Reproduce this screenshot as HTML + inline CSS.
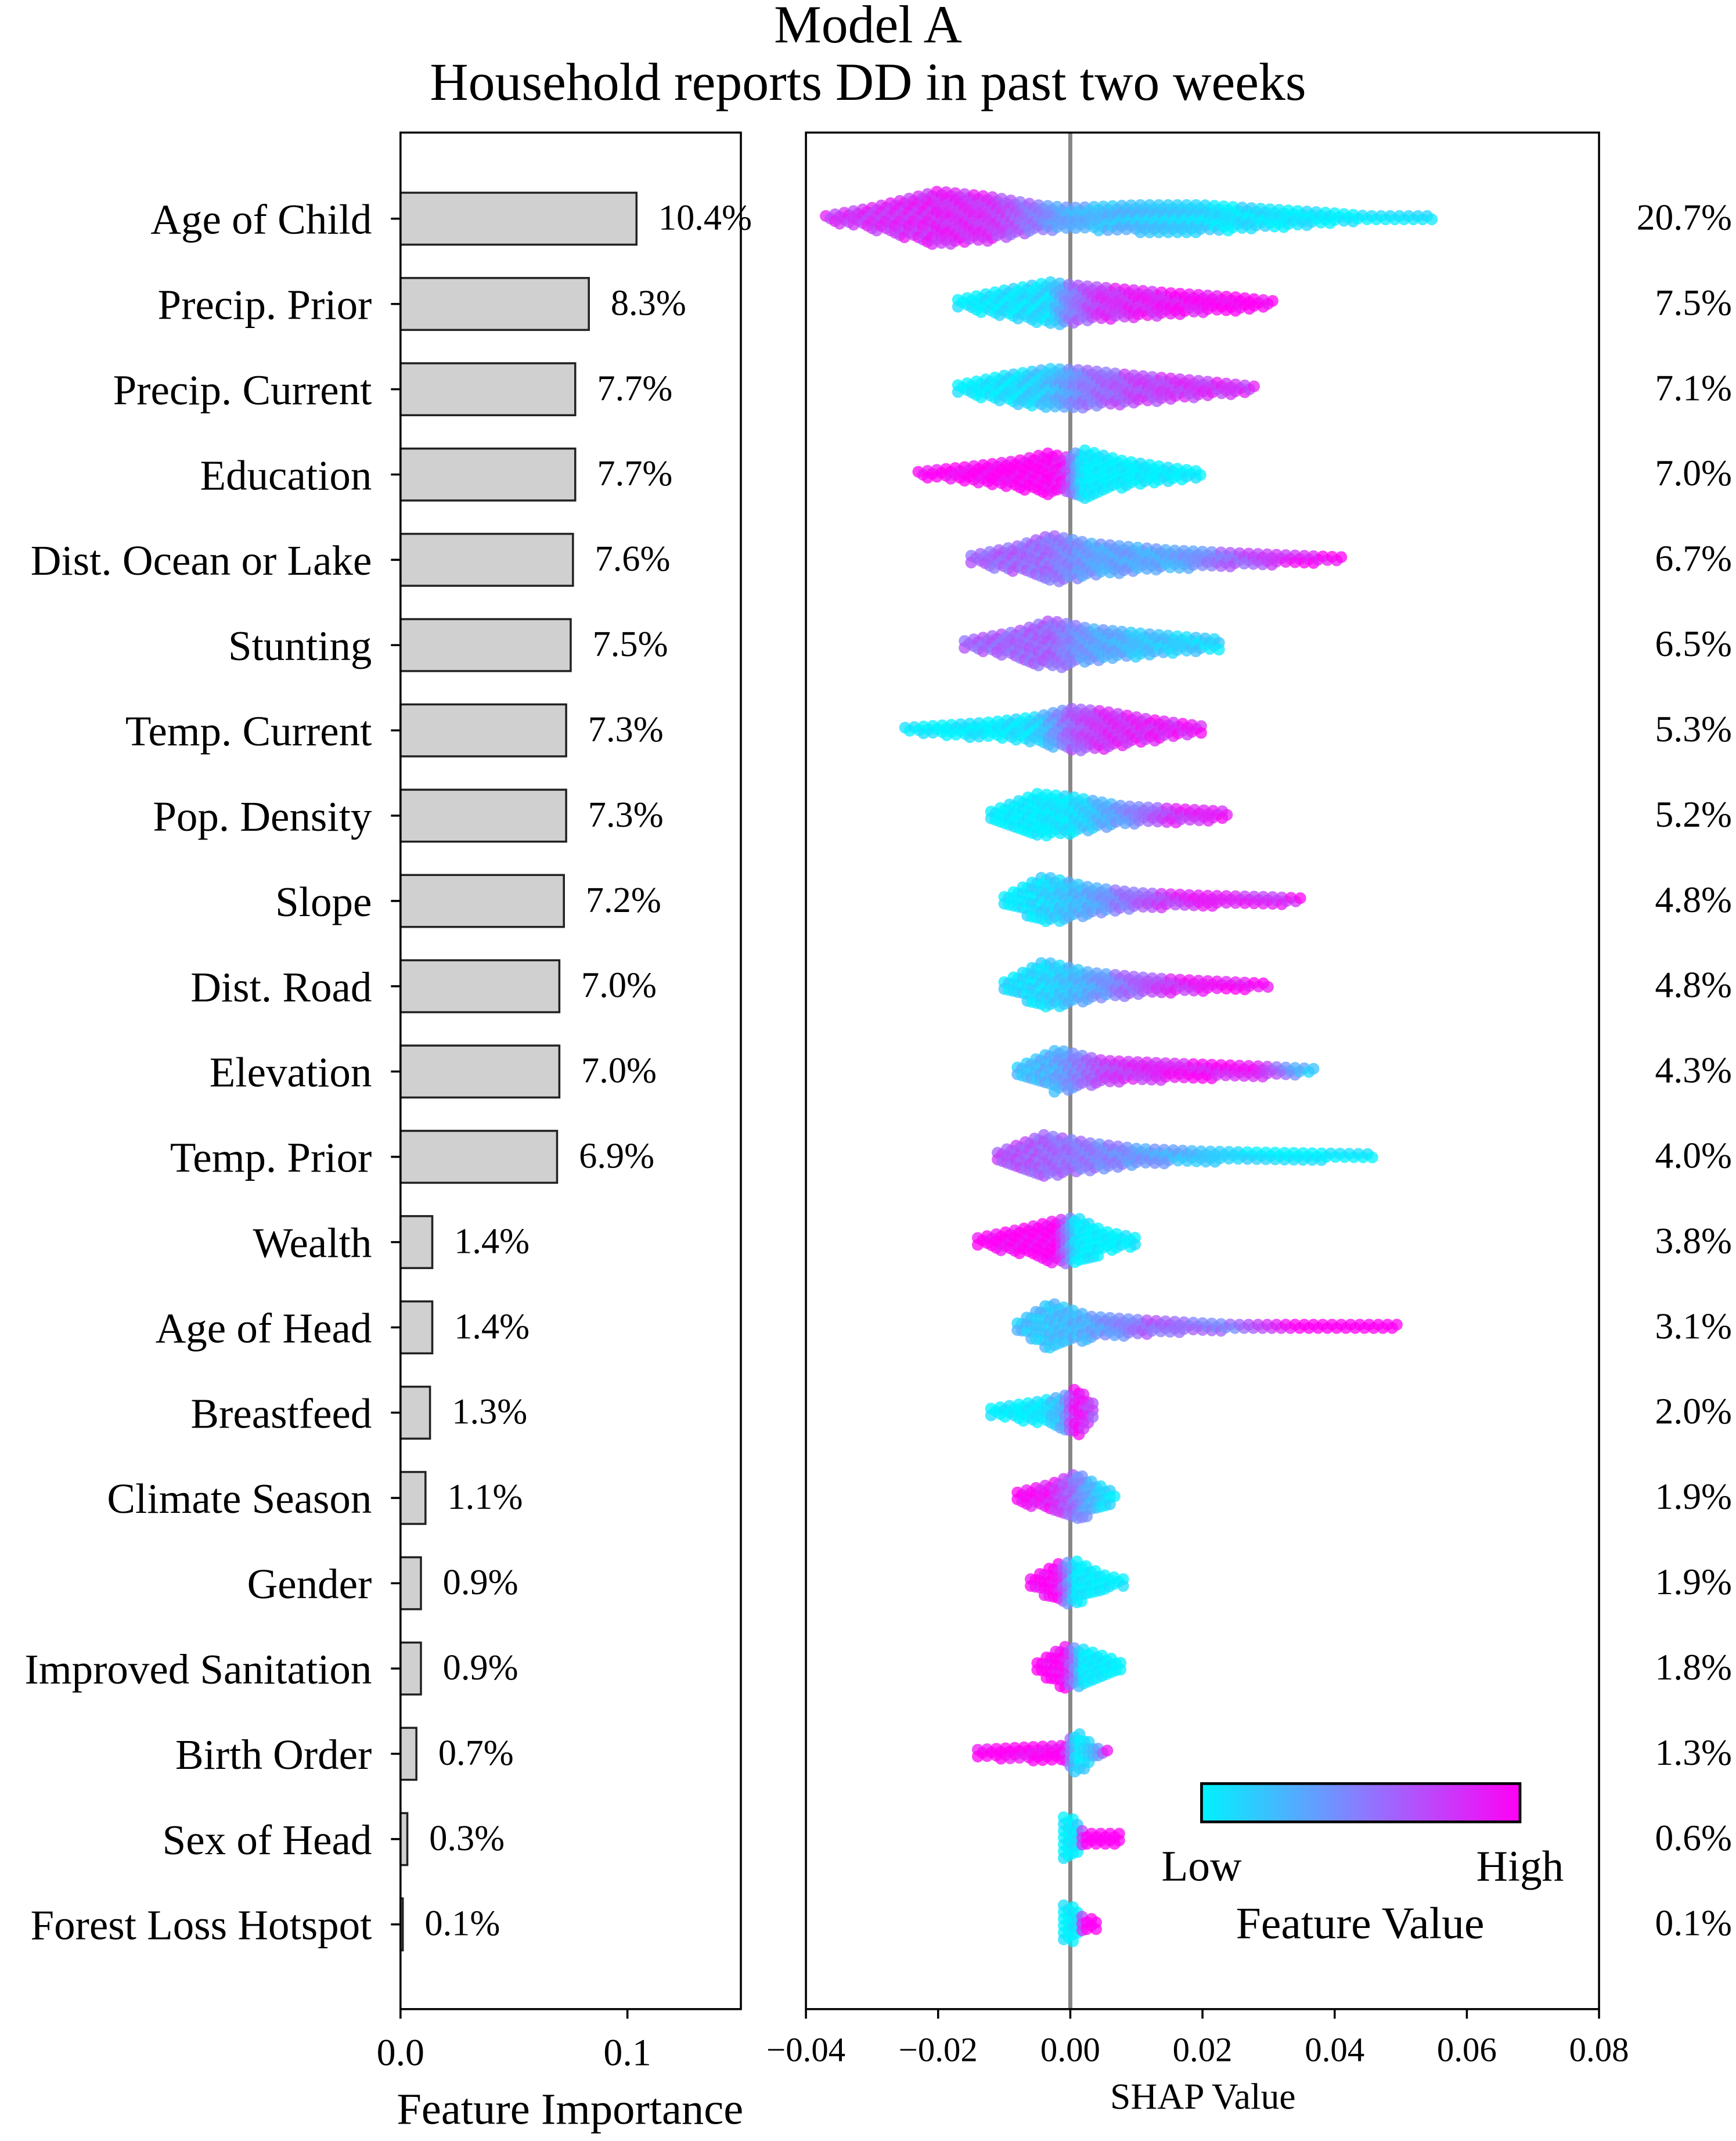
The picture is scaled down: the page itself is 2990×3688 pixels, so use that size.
<!DOCTYPE html>
<html><head><meta charset="utf-8"><style>
html,body{margin:0;padding:0;background:#fff}
svg{display:block}
text{font-family:"Liberation Serif",serif;fill:#000}
</style></head><body>
<svg id="chart" width="2990" height="3688" viewBox="0 0 1270 1566.5" preserveAspectRatio="none" xmlns="http://www.w3.org/2000/svg">
<defs><linearGradient id="cg" x1="0" x2="1" y1="0" y2="0">
<stop offset="0" stop-color="#00f2ff"/><stop offset="0.5" stop-color="#8a7cff"/><stop offset="1" stop-color="#ff00f5"/></linearGradient></defs>
<text x="635" y="31" font-size="39" text-anchor="middle">Model A</text>
<text x="635" y="73" font-size="39" text-anchor="middle">Household reports DD in past two weeks</text>
<g id="left"></g><g id="right"></g>
</svg>
<script>
const features=["Age of Child","Precip. Prior","Precip. Current","Education","Dist. Ocean or Lake","Stunting","Temp. Current","Pop. Density","Slope","Dist. Road","Elevation","Temp. Prior","Wealth","Age of Head","Breastfeed","Climate Season","Gender","Improved Sanitation","Birth Order","Sex of Head","Forest Loss Hotspot"];
const importance=[0.104,0.083,0.077,0.077,0.076,0.075,0.073,0.073,0.072,0.070,0.070,0.069,0.014,0.014,0.013,0.011,0.009,0.009,0.007,0.003,0.001];
const importanceLabels=["10.4%","8.3%","7.7%","7.7%","7.6%","7.5%","7.3%","7.3%","7.2%","7.0%","7.0%","6.9%","1.4%","1.4%","1.3%","1.1%","0.9%","0.9%","0.7%","0.3%","0.1%"];
const shapShare=["20.7%","7.5%","7.1%","7.0%","6.7%","6.5%","5.3%","5.2%","4.8%","4.8%","4.3%","4.0%","3.8%","3.1%","2.0%","1.9%","1.9%","1.8%","1.3%","0.6%","0.1%"];
const leftTicks=[0.0,0.1];
const rightTicks=[-0.04,-0.02,0.00,0.02,0.04,0.06,0.08];
// density profile knots per feature: [shap value, half-height(px), feature value 0..1]
const swarmProfiles=[
[[-0.037,2,0.8],[-0.03,8,0.8],[-0.02,20,0.85],[-0.012,16,0.8],[-0.005,10,0.5],[0,8,0.3],[0.01,10,0.2],[0.02,10,0.1],[0.03,7,0.05],[0.04,4,0],[0.045,2,0],[0.055,2,0.05]],
[[-0.017,3,0],[-0.01,10,0.05],[-0.003,16,0.1],[0,14,0.5],[0.005,12,0.8],[0.015,8,0.9],[0.025,5,1],[0.031,2,1]],
[[-0.017,3,0],[-0.01,10,0.05],[-0.003,15,0.2],[0.002,14,0.5],[0.01,10,0.7],[0.02,6,0.8],[0.028,2,0.8]],
[[-0.023,2,1],[-0.015,6,1],[-0.008,10,1],[-0.003,16,1],[-0.001,12,0.9],[0.002,18,0],[0.008,10,0],[0.015,5,0],[0.02,2,0]],
[[-0.015,3,0.6],[-0.008,10,0.6],[-0.003,18,0.55],[0.003,12,0.35],[0.015,7,0.3],[0.025,5,0.6],[0.035,3,0.9],[0.041,2,1]],
[[-0.016,3,0.6],[-0.008,10,0.6],[-0.003,18,0.6],[0.003,12,0.35],[0.012,8,0.2],[0.023,4,0.1]],
[[-0.025,2,0],[-0.012,6,0],[-0.005,10,0.1],[0,16,0.6],[0.005,14,0.8],[0.012,8,0.85],[0.02,3,0.9]],
[[-0.012,3,0],[-0.005,16,0],[0,14,0.05],[0.008,7,0.4],[0.016,5,0.8],[0.024,3,0.9]],
[[-0.01,3,0],[-0.004,18,0.1],[0.003,10,0.3],[0.01,6,0.6],[0.02,4,0.9],[0.03,3,0.8],[0.035,2,0.9]],
[[-0.01,3,0.1],[-0.004,18,0.1],[0.003,10,0.3],[0.012,6,0.7],[0.02,4,0.9],[0.03,2,1]],
[[-0.008,3,0.2],[-0.002,16,0.3],[0.005,8,0.7],[0.015,6,0.9],[0.028,4,0.9],[0.037,2,0.1]],
[[-0.011,3,0.7],[-0.004,16,0.6],[0.003,10,0.5],[0.01,6,0.4],[0.02,4,0.2],[0.032,3,0],[0.046,2,0]],
[[-0.014,3,1],[-0.007,10,1],[-0.002,16,1],[0.001,18,0],[0.005,8,0],[0.01,3,0]],
[[-0.008,3,0.2],[-0.003,18,0.2],[0.003,8,0.3],[0.012,5,0.6],[0.025,2,0.5],[0.035,2,1],[0.05,2,1]],
[[-0.012,3,0],[-0.005,8,0],[-0.001,12,0.3],[0.001,18,1],[0.004,4,0.6]],
[[-0.008,4,1],[-0.003,10,0.9],[0.001,18,0.5],[0.004,10,0.2],[0.007,3,0]],
[[-0.006,3,1],[-0.002,14,1],[0.001,16,0],[0.005,6,0],[0.008,3,0]],
[[-0.005,4,1],[-0.001,16,1],[0.002,14,0],[0.007,6,0],[0.008,3,0]],
[[-0.014,3,1],[-0.006,5,1],[-0.001,6,1],[0.001,16,0],[0.004,4,0.3],[0.006,2,1]],
[[-0.001,16,0],[0.001,14,0],[0.002,4,1],[0.008,4,1]],
[[-0.001,14,0],[0.001,12,0],[0.002,4,1],[0.004,4,1]]
];
const NS="http://www.w3.org/2000/svg";
function mk(tag,attrs,parent,txt){const e=document.createElementNS(NS,tag);for(const k in attrs)e.setAttribute(k,attrs[k]);if(txt!==undefined)e.textContent=txt;parent.appendChild(e);return e;}
const topY=97,bot=1470;
const rowY=i=>160+i*62.4;
const lx=v=>293+v*1660;
const rx=v=>783+v*4835;
const L=document.getElementById('left'),R=document.getElementById('right');
features.forEach((f,i)=>{
 const y=rowY(i);
 const t=mk('text',{x:272,y:y+11,'font-size':31,'text-anchor':'end'},L,f);
 
 
 mk('line',{x1:286,x2:293,y1:y,y2:y,stroke:'#000','stroke-width':1.5},L);
 const b=mk('rect',{x:lx(0),y:y-19,width:lx(importance[i])-lx(0),height:38,fill:'#d0d0d0',stroke:'#222','stroke-width':1.5},L);
 
 
 const v=mk('text',{x:lx(importance[i])+16,y:y+8,'font-size':26.5},L,importanceLabels[i]);
 
 
 const s=mk('text',{x:1267,y:y+8,'font-size':27,'text-anchor':'end'},R,shapShare[i]);
 
 
});
const lb=mk('rect',{x:293,y:topY,width:249,height:bot-topY,fill:'none',stroke:'#000','stroke-width':1.5},L);


leftTicks.forEach(v=>{mk('line',{x1:lx(v),x2:lx(v),y1:bot,y2:bot+7,stroke:'#000','stroke-width':1.5},L);
 const t=mk('text',{x:lx(v),y:1511,'font-size':28,'text-anchor':'middle'},L,v.toFixed(1));
 
 });
const lt=mk('text',{x:417,y:1554,'font-size':32.5,'text-anchor':'middle'},L,'Feature Importance');


const zl=mk('line',{x1:rx(0),x2:rx(0),y1:topY,y2:bot,stroke:'#888','stroke-width':3},R);


function col(c){const a=[0,242,255],m=[138,124,255],z=[255,0,245];let p,q,t;if(c<0.5){p=a;q=m;t=c*2}else{p=m;q=z;t=(c-0.5)*2}return `rgb(${p.map((v,k)=>Math.round(v+(q[k]-v)*t)).join(',')})`;}
swarmProfiles.forEach((kn,i)=>{
 const g=mk('g',{},R);
 
 
 const y0=rowY(i);let n=0;
 for(let v=kn[0][0];v<=kn[kn.length-1][0]+1e-9;v+=0.0007){
  let j=0;while(j<kn.length-2&&v>kn[j+1][0])j++;
  const a=kn[j],b=kn[j+1];const t=Math.max(0,Math.min(1,(v-a[0])/(b[0]-a[0])));
  const h=a[1]+(b[1]-a[1])*t,c=a[2]+(b[2]-a[2])*t;
  const off=(n%2)*2.5;n++;
  for(let dy=-h+off;dy<=h;dy+=5){
   const cc=Math.max(0,Math.min(1,c+((Math.abs(Math.round(dy))%3)-1)*0.08));
   const d=mk('circle',{cx:rx(v),cy:y0+dy,r:4.3,fill:col(cc),'fill-opacity':0.75},g);
   
   
  }
 }
});
const rb=mk('rect',{x:rx(-0.04),y:topY,width:rx(0.08)-rx(-0.04),height:bot-topY,fill:'none',stroke:'#000','stroke-width':1.5},R);


rightTicks.forEach(v=>{mk('line',{x1:rx(v),x2:rx(v),y1:bot,y2:bot+7,stroke:'#000','stroke-width':1.5},R);
 const t=mk('text',{x:rx(v),y:1508,'font-size':25,'text-anchor':'middle'},R,(v<0?'\u2212':'')+Math.abs(v).toFixed(2));
 
 });
const rt=mk('text',{x:880,y:1543,'font-size':27,'text-anchor':'middle'},R,'SHAP Value');


const cb=mk('rect',{x:879,y:1305,width:233,height:28,fill:'url(#cg)',stroke:'#000','stroke-width':2},R);


const lo=mk('text',{x:879,y:1376,'font-size':32,'text-anchor':'middle'},R,'Low');


const hi=mk('text',{x:1112,y:1376,'font-size':32,'text-anchor':'middle'},R,'High');


const fv=mk('text',{x:995,y:1418,'font-size':33,'text-anchor':'middle'},R,'Feature Value');


</script>
</body></html>
